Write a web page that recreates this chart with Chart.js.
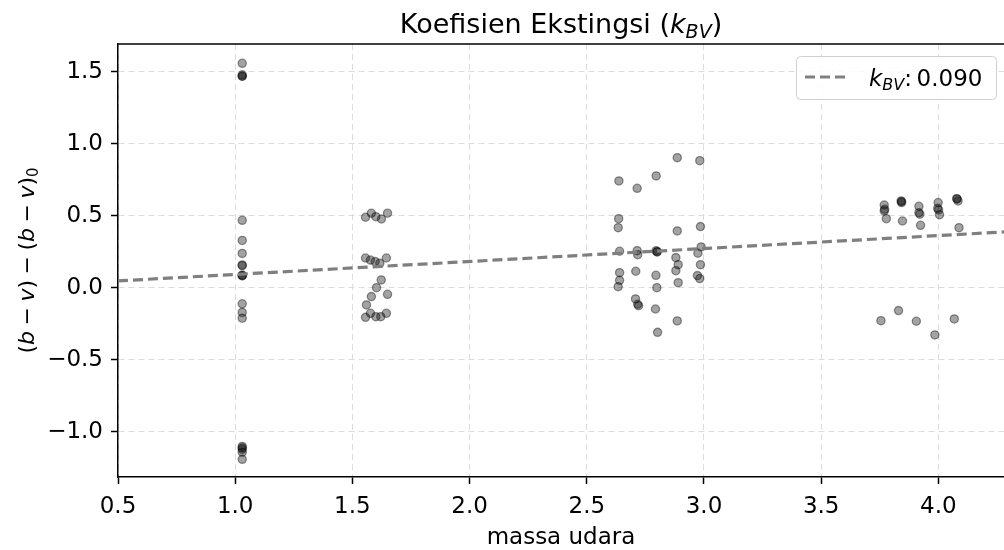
<!DOCTYPE html>
<html>
<head>
<meta charset="utf-8">
<script src="https://cdn.jsdelivr.net/npm/chart.js@4.4.1/dist/chart.umd.min.js"></script>
<style>
  html, body { margin: 0; padding: 0; background: #fff; }
</style>
</head>
<body>
<canvas id="canvas" width="1004" height="550"></canvas>
<script>
const xTicks = [0.5, 1.0, 1.5, 2.0, 2.5, 3.0, 3.5, 4.0];
const yTicks = [-1.0, -0.5, 0.0, 0.5, 1.0, 1.5];

// massa udara ~1.03
const mass1 = [1.03, 1.03, 1.03, 1.03, 1.03, 1.03, 1.03, 1.03, 1.03, 1.03, 1.03, 1.03, 1.03, 1.03, 1.03, 1.03, 1.03, 1.03, 1.03, 1.03];
const diff1 = [1.56, 1.48, 1.47, 1.47, 0.47, 0.33, 0.24, 0.16, 0.155, 0.09, 0.085, 0.085, -0.11, -0.17, -0.21, -1.10, -1.11, -1.12, -1.14, -1.19];

// massa udara ~1.6
const mass2 = [1.556, 1.581, 1.600, 1.624, 1.650, 1.556, 1.577, 1.597, 1.617, 1.645, 1.623, 1.603, 1.581, 1.650, 1.560, 1.556, 1.577, 1.600, 1.621, 1.645];
const diff2 = [0.491, 0.519, 0.495, 0.479, 0.519, 0.208, 0.194, 0.183, 0.171, 0.208, 0.056, 0.002, -0.060, -0.044, -0.118, -0.204, -0.176, -0.199, -0.199, -0.176];

// massa udara ~2.6 - 3.0
const mass3 = [2.637, 2.715, 2.796, 2.886, 2.982, 2.636, 2.634, 2.886, 2.985, 2.640, 2.715, 2.717, 2.796, 2.800, 2.800, 2.988, 2.974, 2.880, 2.890, 2.985, 2.880, 2.640, 2.709, 2.795, 2.640, 2.634, 2.799, 2.890, 2.972, 2.982, 2.708, 2.717, 2.721, 2.793, 2.886, 2.802];
const diff3 = [0.743, 0.692, 0.778, 0.905, 0.884, 0.481, 0.419, 0.396, 0.426, 0.255, 0.259, 0.231, 0.259, 0.250, 0.252, 0.285, 0.241, 0.211, 0.162, 0.162, 0.120, 0.106, 0.116, 0.088, 0.053, 0.009, 0.002, 0.037, 0.086, 0.065, -0.076, -0.113, -0.123, -0.146, -0.229, -0.308];

// massa udara ~3.8 - 4.1
const mass4 = [3.769, 3.771, 3.769, 3.778, 3.841, 3.843, 3.843, 3.847, 3.917, 3.917, 3.921, 3.924, 3.999, 3.997, 4.001, 4.005, 4.078, 4.080, 4.084, 4.088, 3.755, 3.830, 3.906, 3.985, 4.068];
const diff4 = [0.576, 0.546, 0.535, 0.481, 0.604, 0.593, 0.600, 0.465, 0.567, 0.523, 0.512, 0.435, 0.593, 0.553, 0.542, 0.509, 0.620, 0.618, 0.604, 0.419, -0.227, -0.157, -0.231, -0.326, -0.215];

// garis regresi (k_BV = 0.090)
const fitMass = [0.5, 4.28];
const fitDiff = [0.049, 0.389];

const FONT = "'DejaVu Sans', sans-serif";

const points = [];
[[mass1, diff1], [mass2, diff2], [mass3, diff3], [mass4, diff4]].forEach(([xs, ys]) => {
    xs.forEach((x, i) => points.push({x: x, y: ys[i]}));
});

// draw a row of text pieces (for italic / subscript bits)
function drawRich(ctx, parts, x, y, align) {
    const fontOf = p => `${p.italic ? 'italic ' : ''}${p.size}px ${FONT}`;
    let total = 0;
    parts.forEach(p => { ctx.font = fontOf(p); total += ctx.measureText(p.t).width; });
    let cx = align === 'center' ? x - total / 2 : x;
    ctx.textAlign = 'left';
    ctx.textBaseline = 'alphabetic';
    parts.forEach(p => {
        ctx.font = fontOf(p);
        ctx.fillText(p.t, cx, y + (p.dy || 0));
        cx += ctx.measureText(p.t).width;
    });
}

const extras = {
    id: 'extras',
    afterDatasetsDraw(chart) {
        const ctx = chart.ctx;
        const a = chart.chartArea;
        ctx.save();
        // top spine
        ctx.strokeStyle = '#000';
        ctx.lineWidth = 1.5;
        ctx.beginPath();
        ctx.moveTo(a.left, a.top);
        ctx.lineTo(a.right, a.top);
        ctx.stroke();

        // legend box
        const bx = 796.5, by = 56.5, bw = 200, bh = 43, r = 4;
        ctx.beginPath();
        ctx.moveTo(bx + r, by);
        ctx.arcTo(bx + bw, by, bx + bw, by + bh, r);
        ctx.arcTo(bx + bw, by + bh, bx, by + bh, r);
        ctx.arcTo(bx, by + bh, bx, by, r);
        ctx.arcTo(bx, by, bx + bw, by, r);
        ctx.closePath();
        ctx.fillStyle = 'rgba(255,255,255,0.85)';
        ctx.fill();
        ctx.strokeStyle = '#d0d0d0';
        ctx.lineWidth = 1;
        ctx.stroke();

        ctx.strokeStyle = '#808080';
        ctx.lineWidth = 3;
        ctx.setLineDash([10, 5]);
        ctx.beginPath();
        ctx.moveTo(805, 77);
        ctx.lineTo(850, 77);
        ctx.stroke();
        ctx.setLineDash([]);

        ctx.fillStyle = '#000';
        drawRich(ctx, [
            {t: 'k', size: 23, italic: true},
            {t: 'BV', size: 16, italic: true, dy: 4},
            {t: ':\u20090.090', size: 23}
        ], 869, 86, 'left');
        ctx.restore();
    },
    afterDraw(chart) {
        const ctx = chart.ctx;
        const a = chart.chartArea;
        ctx.save();
        ctx.fillStyle = '#000';
        // title
        drawRich(ctx, [
            {t: 'Koefisien Ekstingsi (', size: 27},
            {t: 'k', size: 27, italic: true},
            {t: 'BV', size: 19, italic: true, dy: 5},
            {t: ')', size: 27}
        ], (a.left + a.right) / 2, 33, 'center');

        // y label
        ctx.translate(34, (a.top + a.bottom) / 2);
        ctx.rotate(-Math.PI / 2);
        drawRich(ctx, [
            {t: '(', size: 22},
            {t: 'b', size: 22, italic: true},
            {t: '\u2005\u2212\u2005', size: 22},
            {t: 'v', size: 22, italic: true},
            {t: ')\u2005\u2212\u2005(', size: 22},
            {t: 'b', size: 22, italic: true},
            {t: '\u2005\u2212\u2005', size: 22},
            {t: 'v', size: 22, italic: true},
            {t: ')', size: 22},
            {t: '0', size: 15, dy: 4}
        ], 0, 0, 'center');
        ctx.restore();
    }
};

const fmt = v => v.toFixed(1).replace('-', '\u2212');

const canvas = document.getElementById('canvas');
const ctx = canvas.getContext('2d');

new Chart(ctx, {
    data: {
        datasets: [
            {
                type: 'line',
                data: fitMass.map((x, i) => ({x: x, y: fitDiff[i]})),
                borderColor: '#7f7f7f',
                borderWidth: 3.2,
                borderDash: [10, 5],
                pointRadius: 0,
                fill: false,
                order: 0
            },
            {
                type: 'scatter',
                data: points,
                backgroundColor: 'rgba(0,0,0,0.36)',
                borderColor: 'rgba(0,0,0,0.4)',
                borderWidth: 1.3,
                pointRadius: 4.1,
                order: 1
            }
        ]
    },
    options: {
        responsive: false,
        animation: false,
        layout: { autoPadding: false, padding: { top: 44, right: 0, left: 0, bottom: 0 } },
        plugins: {
            legend: { display: false },
            tooltip: { enabled: false }
        },
        scales: {
            x: {
                type: 'linear',
                position: 'bottom',
                min: 0.5,
                max: 4.28,
                afterBuildTicks: s => { s.ticks = xTicks.map(v => ({value: v})); },
                afterFit: s => { s.height = 73; },
                ticks: {
                    callback: v => fmt(v),
                    color: '#000',
                    font: { family: FONT, size: 23 },
                    padding: 9,
                    maxRotation: 0
                },
                grid: {
                    color: '#dcdcdc',
                    lineWidth: 1,
                    tickColor: '#000',
                    tickWidth: 1.5,
                    tickLength: 7
                },
                border: { color: '#000', width: 1.5, dash: [6, 4] },
                title: {
                    display: true,
                    text: 'massa udara',
                    color: '#000',
                    font: { family: FONT, size: 23 },
                    padding: { top: 0, bottom: -2 }
                }
            },
            y: {
                type: 'linear',
                min: -1.3125,
                max: 1.694,
                afterBuildTicks: s => { s.ticks = yTicks.map(v => ({value: v})); },
                afterFit: s => { s.width = 118; },
                ticks: {
                    callback: v => fmt(v),
                    color: '#000',
                    font: { family: FONT, size: 23 },
                    padding: 8
                },
                grid: {
                    color: '#dcdcdc',
                    lineWidth: 1,
                    tickColor: '#000',
                    tickWidth: 1.5,
                    tickLength: 7
                },
                border: { color: '#000', width: 1.5, dash: [6, 4] }
            }
        }
    },
    plugins: [extras]
});
</script>
</body>
</html>
